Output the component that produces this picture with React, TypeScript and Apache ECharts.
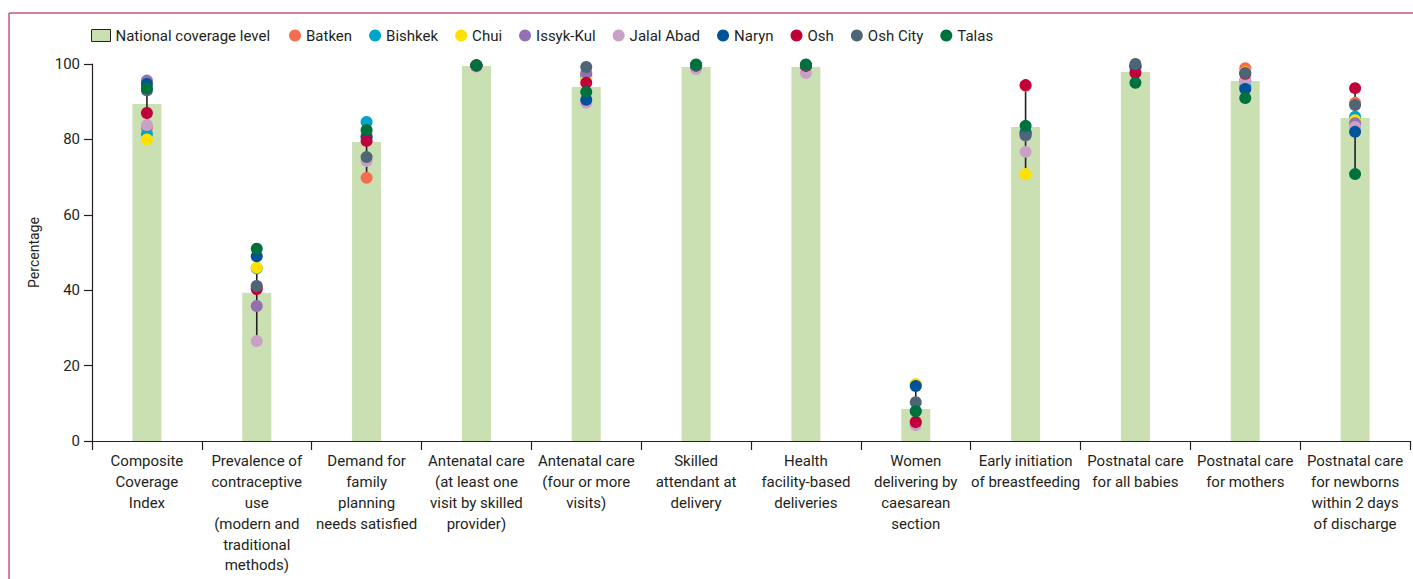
import React, { useEffect, useRef } from "react";
import * as echarts from "echarts";

const categories = [
  "Composite\nCoverage\nIndex",
  "Prevalence of\ncontraceptive\nuse\n(modern and\ntraditional\nmethods)",
  "Demand for\nfamily\nplanning\nneeds satisfied",
  "Antenatal care\n(at least one\nvisit by skilled\nprovider)",
  "Antenatal care\n(four or more\nvisits)",
  "Skilled\nattendant at\ndelivery",
  "Health\nfacility-based\ndeliveries",
  "Women\ndelivering by\ncaesarean\nsection",
  "Early initiation\nof breastfeeding",
  "Postnatal care\nfor all babies",
  "Postnatal care\nfor mothers",
  "Postnatal care\nfor newborns\nwithin 2 days\nof discharge",
];

const yTicks = [0, 20, 40, 60, 80, 100];

const nationalName = "National coverage level";
const national = [89.4, 39.3, 79.3, 99.5, 93.9, 99.2, 99.2, 8.5, 83.3, 97.9, 95.5, 85.7];

const regionNames = ["Batken", "Bishkek", "Chui", "Issyk-Kul", "Jalal Abad", "Naryn", "Osh", "Osh City", "Talas"];
const regionColors = ["#f26e4f", "#00a3c9", "#ffe100", "#9370b1", "#c9a0c6", "#00529b", "#c0003b", "#4e6575", "#00703c"];

const batken = [83.0, 41.0, 69.8, 99.6, 97.2, 99.4, 99.4, 5.2, 94.2, 99.3, 98.9, 89.7];
const bishkek = [81.4, 45.8, 84.6, 99.6, 96.6, 99.5, 99.5, 15.0, 81.6, 99.3, 94.0, 86.0];
const chui = [80.0, 46.0, 81.7, 99.6, 96.0, 99.5, 99.6, 15.1, 70.8, 99.0, 97.8, 85.1];
const issykKul = [95.6, 35.8, 80.9, 99.6, 97.6, 99.6, 99.6, 8.0, 81.0, 99.4, 95.6, 84.3];
const jalalAbad = [83.8, 26.5, 74.3, 99.3, 89.7, 98.7, 97.6, 4.2, 76.7, 98.4, 95.5, 83.3];
const naryn = [94.7, 49.0, 80.6, 99.6, 90.5, 99.6, 99.6, 14.6, 81.8, 99.5, 93.4, 82.0];
const osh = [87.0, 40.3, 79.6, 99.6, 95.0, 99.6, 99.5, 5.0, 94.4, 97.6, 97.4, 93.6];
const oshCity = [93.0, 41.1, 75.3, 99.6, 99.2, 99.6, 99.7, 10.3, 81.2, 100.0, 97.6, 89.1];
const talas = [93.6, 51.0, 82.5, 99.7, 92.6, 99.9, 99.9, 7.9, 83.6, 95.0, 91.0, 70.8];

const regionValues = [batken, bishkek, chui, issykKul, jalalAbad, naryn, osh, oshCity, talas];

const FONT = "Roboto, 'Noto Sans', sans-serif";
const INK = "#231f20";
const FS = 15;

export default function App() {
  const ref = useRef<HTMLDivElement>(null);

  useEffect(() => {
    if (!ref.current) return;
    const chart = echarts.init(ref.current, undefined, { renderer: "svg" });

    const ranges = categories.map((_, i) => {
      const vals = regionValues.map((arr) => arr[i]);
      return [i, Math.min(...vals), Math.max(...vals)];
    });

    const option: any = {
      animation: false,
      backgroundColor: "#ffffff",
      textStyle: { fontFamily: FONT, color: INK },
      grid: { left: 92, right: 3, top: 64, bottom: 138 },
      legend: [
        {
          data: [
            {
              name: nationalName,
              icon: "rect",
              itemStyle: { color: "#cae0b3", borderColor: INK, borderWidth: 1 },
            },
          ],
          left: 86,
          top: 23,
          itemWidth: 19,
          itemHeight: 12,
          itemGap: 20,
          textStyle: { fontFamily: FONT, fontSize: FS, color: INK },
          selectedMode: false,
        },
        {
          data: regionNames.map((n) => ({ name: n, icon: "circle" })),
          left: 284,
          top: 23,
          itemWidth: 12,
          itemHeight: 12,
          itemGap: 17,
          textStyle: { fontFamily: FONT, fontSize: FS, color: INK },
          selectedMode: false,
        },
      ],
      xAxis: {
        type: "category",
        data: categories,
        boundaryGap: true,
        axisLine: { lineStyle: { color: INK, width: 1.2 } },
        axisTick: { show: true, length: 9, interval: 0, lineStyle: { color: INK, width: 1.2 } },
        axisLabel: {
          interval: 0,
          margin: 10,
          fontFamily: FONT,
          fontSize: FS,
          lineHeight: 20.8,
          color: INK,
          align: "center",
          verticalAlign: "top",
        },
      },
      yAxis: {
        type: "value",
        min: yTicks[0],
        max: yTicks[yTicks.length - 1],
        interval: 20,
        name: "Percentage",
        nameLocation: "middle",
        nameGap: 51,
        nameRotate: 90,
        nameTextStyle: { fontFamily: FONT, fontSize: 14, color: INK },
        axisLine: { show: true, lineStyle: { color: INK, width: 1.2 } },
        axisTick: { show: true, length: 8, lineStyle: { color: INK, width: 1.2 } },
        axisLabel: { margin: 12, fontFamily: FONT, fontSize: FS, color: INK },
        splitLine: { show: false },
      },
      graphic: [
        { type: "line", shape: { x1: 9, y1: 13, x2: 1413, y2: 13 }, style: { stroke: "#c8557d", lineWidth: 1.5 }, silent: true },
        { type: "line", shape: { x1: 9, y1: 13, x2: 9, y2: 579 }, style: { stroke: "#c8557d", lineWidth: 1.5 }, silent: true },
      ],
      series: [
        {
          name: nationalName,
          type: "bar",
          data: national,
          barWidth: 29,
          itemStyle: { color: "#cae0b3" },
          z: 1,
        },
        {
          name: "range",
          type: "custom",
          data: ranges,
          encode: { x: 0, y: [1, 2] },
          z: 2,
          renderItem: (params: any, api: any) => {
            const i = api.value(0);
            const lo = api.coord([i, api.value(1)]);
            const hi = api.coord([i, api.value(2)]);
            return {
              type: "line",
              shape: { x1: lo[0], y1: lo[1], x2: hi[0], y2: hi[1] },
              style: { stroke: INK, lineWidth: 1.6 },
            };
          },
        },
        ...regionNames.map((n, k) => ({
          name: n,
          type: "scatter",
          data: regionValues[k],
          symbol: "circle",
          symbolSize: 12,
          itemStyle: { color: regionColors[k], opacity: 1 },
          z: 3,
        })),
      ],
    };

    chart.setOption(option);
    return () => chart.dispose();
  }, []);

  return (
    <div
      ref={ref}
      style={{ position: "fixed", left: 0, top: 0, width: 1413, height: 579, background: "#fff" }}
    />
  );
}
